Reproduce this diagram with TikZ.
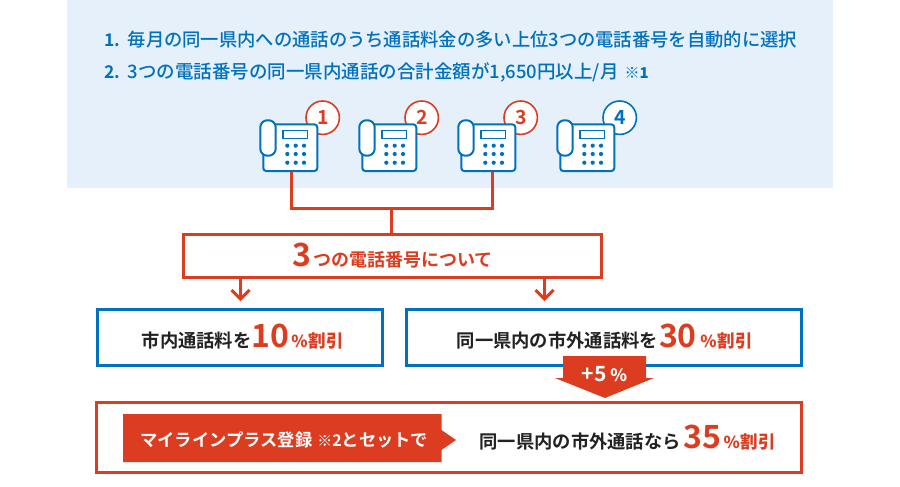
\documentclass[tikz,border=0pt]{standalone}
\usepackage{fontspec}
\setmainfont{Noto Sans CJK JP}[BoldFont={Noto Sans CJK JP Bold}]
\newfontfamily\medfont{Noto Sans CJK JP Medium}
\usetikzlibrary{calc}
\definecolor{cred}{HTML}{DC3D20}
\definecolor{cblue}{HTML}{0071BC}
\definecolor{cbg}{HTML}{E5F0FA}
\definecolor{ctext}{HTML}{222222}
\newcommand{\fs}[1]{\fontsize{#1}{#1}\selectfont}
\newcommand{\bignum}[3]{{\color{cred}\fs{32}\hspace{#1}#3\hspace{#2}}}
\newcommand{\pct}[1]{{\color{cred}\medfont{\fs{16.5}\%\hspace{1pt}}\fs{17.5}#1}}
\tikzset{
  x=1pt,y=-1pt,
  redline/.style={draw=cred,line width=3pt},
  redarrow/.style={draw=cred,line width=3pt},
  bluebox/.style={draw=cblue,line width=3pt,fill=white,inner sep=0pt,minimum height=56pt},
  redbox/.style={draw=cred,line width=3pt,fill=white,inner sep=0pt},
  txt/.style={inner sep=0pt,text=ctext},
  bodytxt/.style={txt,anchor=base west,font=\bfseries\fs{18.3}},
  toptxt/.style={txt,anchor=base west,font=\medfont\fs{18.3},text=cblue},
  numtxt/.style={txt,anchor=base west,text=cblue,font=\bfseries\fs{17.5}},
  phonebody/.style={draw=cblue,line width=2pt,fill=white,rounded corners=3pt,minimum width=54pt,minimum height=46.7pt,inner sep=0pt},
  handset/.style={draw=cblue,line width=2pt,fill=white,rounded corners=7pt},
  badge/.style={circle,line width=1.6pt,fill=white,minimum size=33.4pt,inner sep=0pt,font=\bfseries\fs{19.5}},
  screenbox/.style={draw=cblue,line width=1.5pt,fill=white},
  keydot/.style={fill=cblue,draw=none},
}
\newcommand{\phone}[4]{%
  \node[badge,draw=#3,text=#3] (b#1) at (#2+322.7,117.7) {\raisebox{-2pt}{\hspace{1pt}#4}};
  \node[phonebody] (p#1) at (#2+290.3,147.7) {};
  \draw[handset] (#2+260.3,120.3) rectangle (#2+275.7,155.7);
  \draw[screenbox] (#2+283,130.7) rectangle (#2+307.6,138.3);
  \foreach \kx in {287.3,295.7,304}{\foreach \ky in {145.7,154,162.7}{
    \fill[keydot] (#2+\kx,\ky) circle (2.1);}}
}
\begin{document}
\begin{tikzpicture}
\useasboundingbox (0,0) rectangle (900,487);
\fill[cbg] (67,0) rectangle (833,188);
\node[numtxt] (l1n) at (104,47) {1.};
\node[toptxt] (l1) at (127.5,47) {毎月の同一県内への通話のうち通話料金の多い上位3つの電話番号を自動的に選択};
\node[numtxt] (l2n) at (104,79) {2.};
\node[toptxt,font=\medfont\fs{18.5}] (l2) at (127.5,79) {3つの電話番号の同一県内通話の合計金額が1,650円以上/月\hspace{6pt}{\fs{15}※\bfseries 1}};
\phone{1}{0}{cred}{1}
\phone{2}{99}{cred}{2}
\phone{3}{198}{cred}{3}
\phone{4}{297}{cblue}{4}
\node[redbox,minimum width=417.4pt,minimum height=43pt] (three) at (392.5,256.3) {};
\node[txt,anchor=base west,text=cred,font=\bfseries\fs{18}] (threet) at (292.5,266.5) {{\fs{32}3\hspace{1.5pt}}つの電話番号について};
\coordinate (jn) at (391.7,208.3);
\draw[redline] ($(p1.south)+(1.4,0)$) |- (jn);
\draw[redline] ($(p3.south)+(4,0)$) |- (jn);
\draw[redline] (jn) -- (jn|-three.north);
\node[bluebox,minimum width=285pt] (a) at (240,337) {};
\node[bluebox,minimum width=395pt] (bb) at (604,337) {};
\node[redbox,minimum width=705pt,minimum height=70pt] (c) at (449,437.5) {};
\coordinate (t1) at (240.5,299); \coordinate (t2) at (544.5,299);
\draw[redarrow] (t1|-three.south) -- (t1);
\draw[redarrow] ($(t1)+(-9,-9)$) -- (t1) -- ($(t1)+(9,-9)$);
\draw[redarrow] (t2|-three.south) -- (t2);
\draw[redarrow] ($(t2)+(-9,-9)$) -- (t2) -- ($(t2)+(9,-9)$);
\node[bodytxt] (at) at (141.5,347.5) {市内通話料を\bignum{0pt}{2pt}{10}\pct{割引}};
\node[bodytxt] (bt) at (456.5,347.5) {同一県内の市外通話料を\bignum{1pt}{3.5pt}{30}\pct{割引}};
\fill[cred] (563,356) -- (646,356) -- (646,378) -- (654,378) -- (605,398) -- (555,378) -- (563,378) -- cycle;
\node[txt,anchor=base west,text=white,font=\bfseries\fs{21}] (plus) at (581.5,381) {+5\hspace{4pt}{\fs{17}\medfont\%}};
\fill[cred] (123,414) -- (441.5,414) -- (441.5,430) -- (456,440) -- (441.5,450) -- (441.5,462) -- (123,462) -- cycle;
\node[txt,anchor=base west,text=white,font=\bfseries\fs{17.3}] (ml) at (140,446) {マイラインプラス登録\hspace{5pt}{\medfont\fs{15}※}{\fs{16}2}とセットで};
\node[bodytxt] (ct) at (479.3,448.5) {同一県内の市外通話なら\bignum{3pt}{2pt}{35}\pct{割引}};
\end{tikzpicture}
\end{document}
